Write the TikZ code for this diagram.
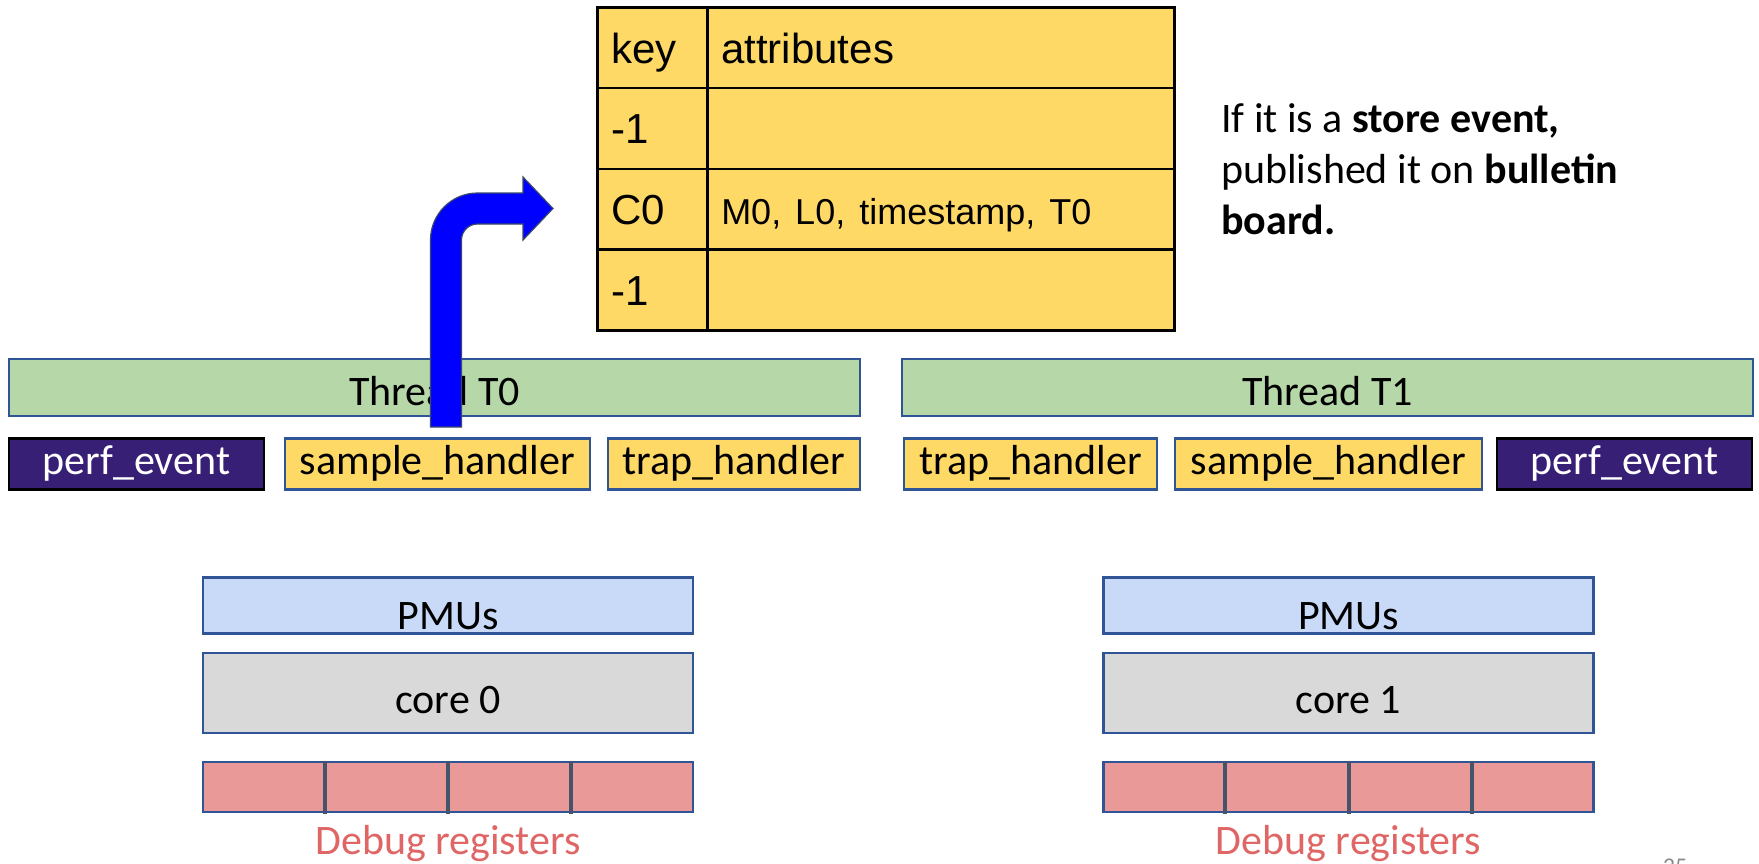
\documentclass[tikz,border=0pt]{standalone}
\usepackage{fontspec}
\setmainfont{Carlito}
\newfontfamily\tabfont{Liberation Sans}
\usetikzlibrary{calc}
\definecolor{tabyellow}{HTML}{FFD966}
\definecolor{boxblue}{HTML}{2F5597}
\definecolor{thrgreen}{HTML}{B6D7A8}
\definecolor{perfpurple}{HTML}{371F76}
\definecolor{pmublue}{HTML}{C9DAF8}
\definecolor{coregray}{HTML}{D9D9D9}
\definecolor{regred}{HTML}{EA9999}
\definecolor{regline}{HTML}{44546A}
\definecolor{regtext}{HTML}{E06666}
\definecolor{arrowblue}{HTML}{0000FF}
\definecolor{arrowedge}{HTML}{3A4A6A}
\definecolor{pagegray}{HTML}{8C8C8C}

\begin{document}
\frenchspacing
\begin{tikzpicture}[x=1pt,y=1pt,
  big/.style={font=\fontsize{42}{51}\selectfont},
  cell/.style={draw=black,line width=2.5pt,fill=tabyellow,anchor=north west,
    inner ysep=0pt,inner xsep=14pt,minimum height=80.75pt,align=left,
    font=\tabfont\fontsize{42}{48}\selectfont\frenchspacing,text height=35pt,text depth=4pt},
  keycell/.style={cell,text width=82pt},
  attrcell/.style={cell,text width=439pt},
  blk/.style={rectangle,inner sep=0pt,big,draw=boxblue,line width=2.2pt},
  thread/.style={blk,fill=thrgreen,minimum height=57pt,text height=39pt,text depth=4pt},
  handler/.style={blk,fill=tabyellow,minimum height=51pt,text height=24pt,text depth=4pt},
  perf/.style={blk,draw=black,line width=2.8pt,fill=perfpurple,text=white,
    minimum height=51pt,text height=24pt,text depth=4pt},
  pmu/.style={blk,fill=pmublue,minimum width=490pt,minimum height=51pt,text height=52pt,text depth=4pt},
  core/.style={blk,fill=coregray,minimum width=490pt,minimum height=80pt,text height=44pt,text depth=4pt},
  regs/.style={blk,fill=regred,minimum width=490pt,minimum height=50pt},
  regdiv/.style={draw=regline,line width=4pt},
  reglabel/.style={big,text=regtext,anchor=base,inner sep=0pt},
  blockarrow/.style={fill=arrowblue,draw=arrowedge,line width=1.2pt,line join=miter}
]
\useasboundingbox (0,0) rectangle (1759,-863);

% bulletin board table
\node[keycell]  (k0) at (596,-6) {key};
\node[attrcell] (a0) at (706,-6) {attributes};
\node[keycell]  (k1) at (596,-86.75) {-1};
\node[attrcell] (a1) at (706,-86.75) {};
\node[keycell]  (k2) at (596,-167.5) {C0};
\node[attrcell] (a2) at (706,-167.5) {\fontsize{36}{42}\selectfont M0,\ L0,\ timestamp,\ T0};
\node[keycell]  (k3) at (596,-248.25) {-1};
\node[attrcell] (a3) at (706,-248.25) {};

% explanatory note
\node[big,anchor=north west,align=left,inner sep=0pt] (note) at (1221,-103)
  {If it is a \textbf{store event,}\\published it on \textbf{bulletin}\\\textbf{board.}};

% threads and their handlers
\node[thread,minimum width=851pt] (thr0) at (434.5,-387.5) {Thread T0};
\node[thread,minimum width=851pt] (thr1) at (1327.5,-387.5) {Thread T1};

\node[perf,minimum width=255pt]    (pe0) at (136.5,-464) {perf\_event};
\node[handler,minimum width=305pt] (sh0) at (437.5,-464) {sample\_handler};
\node[handler,minimum width=252pt] (th0) at (734,-464) {trap\_handler};
\node[handler,minimum width=253pt] (th1) at (1030.5,-464) {trap\_handler};
\node[handler,minimum width=307pt] (sh1) at (1328.5,-464) {sample\_handler};
\node[perf,minimum width=255pt]    (pe1) at (1624.5,-464) {perf\_event};

% cores with PMUs and debug registers
\foreach \c/\x/\n in {0/448/0,1/1348.5/1}{
  \node[pmu]  (pmu\c)  at (\x,-605.5) {PMUs};
  \node[core] (core\c) at (\x,-693) {core \n};
  \node[regs] (dbg\c)  at (\x,-787) {};
  \foreach \k in {1,2,3}{
    \draw[regdiv] ($(dbg\c.north west)!\k/4!(dbg\c.north east)$) -- ++(0,-53);
  }
  \node[reglabel] (dbgl\c) at (\x,-854) {Debug registers};
}

% sample handler publishes to the board
\coordinate (arrowtail) at (446,-427);
\coordinate (arrowtip) at (553,-208.5);
\draw[blockarrow]
  ($(arrowtail)+(-15.5,0)$) -- (430.5,-240)
  arc[start angle=180,end angle=90,radius=47pt] -- (523,-193) -- (523,-177)
  -- (arrowtip) -- (523,-240) -- (523,-224) -- (477.5,-224)
  arc[start angle=90,end angle=180,radius=16pt] -- ($(arrowtail)+(15.5,0)$) -- cycle;

% slide number
\node[font=\fontsize{24}{28}\selectfont,text=pagegray,anchor=base,inner sep=0pt] (pg) at (1675,-874) {35};
\end{tikzpicture}
\end{document}
